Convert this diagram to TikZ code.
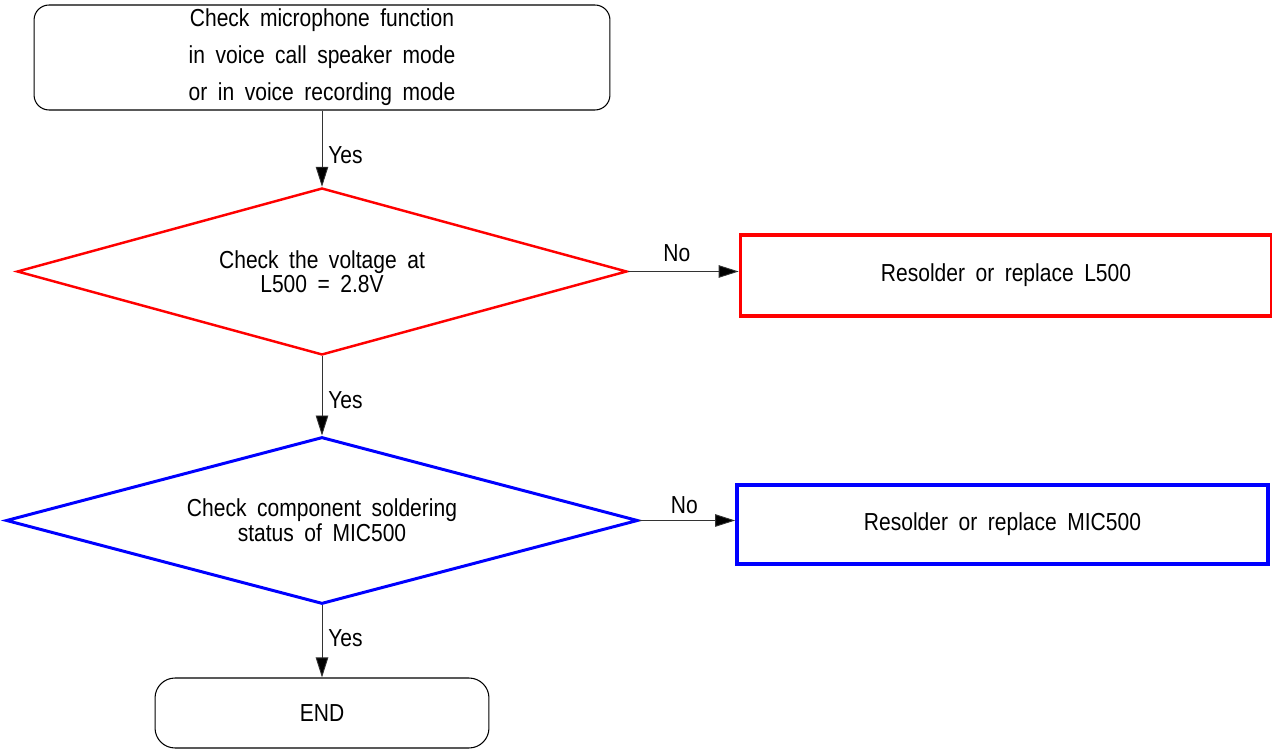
\documentclass[tikz,border=0pt]{standalone}
\usepackage{fontspec}
\setmainfont{Liberation Sans}[FakeStretch=0.855, WordSpace=1.8]
\usetikzlibrary{shapes.geometric, arrows.meta, positioning}

\tikzset{
  every node/.style={font=\fontsize{14}{12.5}\selectfont},
  startbox/.style={draw, rounded corners=0.3cm, line width=0.6pt, align=center, inner ysep=0pt,
                   minimum width=11.52cm, minimum height=2.1cm},
  endbox/.style={draw, rounded corners=0.4cm, line width=0.6pt,
                 minimum width=6.68cm, minimum height=1.4cm},
  testred/.style={draw=red, diamond, aspect=3.66, line width=1.4pt, inner sep=0pt, align=center,
                  minimum width=12.2cm, minimum height=3.34cm},
  testblue/.style={draw=blue, diamond, aspect=3.78, line width=1.7pt, inner sep=0pt, align=center,
                   minimum width=12.64cm, minimum height=3.34cm},
  fixred/.style={draw=red, line width=2.2pt, minimum width=10.62cm, minimum height=1.62cm},
  fixblue/.style={draw=blue, line width=2.2pt, minimum width=10.62cm, minimum height=1.58cm},
  link/.style={draw=black!80, line width=0.5pt, -{Triangle[length=0.4cm, width=0.25cm, fill=black]}}
}

\begin{document}
\begin{tikzpicture}[x=0.02cm, y=-0.02cm]
    \useasboundingbox (0,0) rectangle (1272,749);

    \node[startbox] at (322,57.5) (start) {Check microphone function\\[7pt]
      in voice call speaker mode\\[7pt] or in voice recording mode};

    \node[testred] at (322,271.5) (volt) {Check the voltage at\\L500 = 2.8V};
    \node[fixred] at (1006,275.5) (fixl) {Resolder or replace L500};

    \node[testblue] at (322,520.5) (mic) {Check component soldering\\status of MIC500};
    \node[fixblue] at (1002.5,524.5) (fixmic) {Resolder or replace MIC500};

    \node[endbox] at (322,713) (end) {END};

    \draw[link] (start.south) -- (volt.north) node[pos=0.58, right] {Yes};
    \draw[link] (volt.east) -- (volt.east -| fixl.west) node[pos=0.44, above=2pt] {No};
    \draw[link] (volt.south) -- (mic.north) node[pos=0.56, right] {Yes};
    \draw[link] (mic.east) -- (mic.east -| fixmic.west) node[pos=0.47, above=0pt] {No};
    \draw[link] (mic.south) -- (end.north) node[pos=0.46, right] {Yes};
  \end{tikzpicture}
\end{document}
